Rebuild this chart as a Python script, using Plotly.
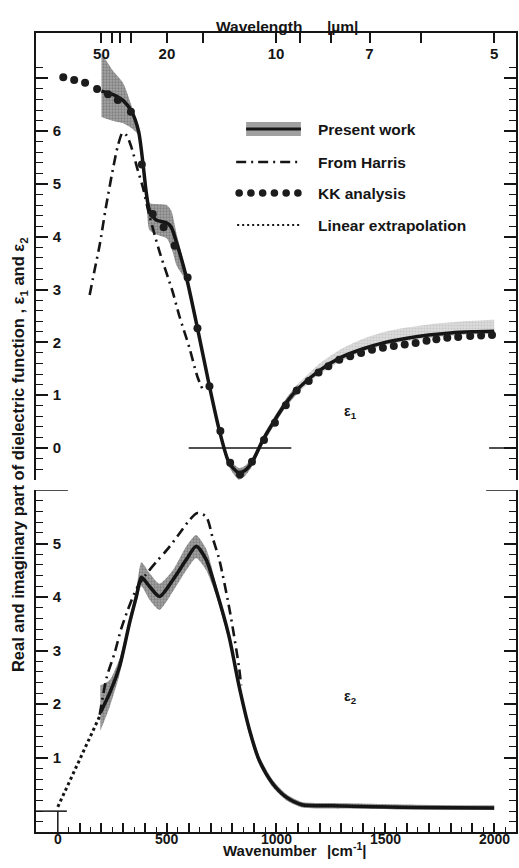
import plotly.graph_objects as go

# ---------------- data ----------------
# epsilon_1, present work: centre line and uncertainty band (wavenumber in cm^-1)
wn_e1 = [200, 250, 300, 340, 370, 390, 405, 420, 450, 500, 520, 545, 590, 640, 695, 740,
         785, 830, 860, 890, 940, 990, 1045, 1100, 1200, 1300, 1400, 1500, 1600, 1700,
         1800, 1900, 2000]
eps1 = [6.76, 6.70, 6.58, 6.36, 6.00, 5.40, 4.85, 4.50, 4.32, 4.26, 4.18, 3.88, 3.22, 2.27,
        1.17, 0.34, -0.28, -0.47, -0.42, -0.27, 0.15, 0.50, 0.85, 1.12, 1.47, 1.72, 1.88,
        2.00, 2.08, 2.14, 2.18, 2.20, 2.21]
eps1_hi = [7.48, 7.16, 6.91, 6.46, 6.08, 5.47, 4.95, 4.64, 4.62, 4.60, 4.50, 4.05, 3.30,
           2.35, 1.25, 0.42, -0.20, -0.38, -0.33, -0.19, 0.23, 0.58, 0.93, 1.21, 1.60,
           1.88, 2.07, 2.20, 2.28, 2.34, 2.38, 2.41, 2.43]
eps1_lo = [6.27, 6.20, 6.15, 6.05, 5.92, 5.33, 4.75, 4.13, 4.05, 3.97, 3.80, 3.45, 3.14,
           2.19, 1.09, 0.26, -0.36, -0.60, -0.52, -0.35, 0.07, 0.42, 0.77, 1.04, 1.40,
           1.65, 1.82, 1.94, 2.02, 2.08, 2.12, 2.15, 2.16]

# epsilon_1, Kramers-Kronig analysis
wn_kk = [25, 75, 125, 180, 230, 275, 335, 385, 435, 485, 535, 595, 640, 695, 745, 790,
         835, 890, 945, 995, 1045, 1095, 1150, 1195, 1240, 1290, 1340, 1390, 1440, 1490,
         1540, 1590, 1640, 1690, 1735, 1785, 1835, 1890, 1940, 1990]
eps1_kk = [7.02, 6.97, 6.92, 6.80, 6.70, 6.59, 6.37, 5.37, 4.43, 4.18, 3.83, 3.23, 2.27,
           1.17, 0.32, -0.28, -0.50, -0.26, 0.15, 0.48, 0.81, 1.09, 1.27, 1.43, 1.55,
           1.67, 1.74, 1.80, 1.86, 1.90, 1.93, 1.96, 1.99, 2.03, 2.06, 2.09, 2.10, 2.12,
           2.13, 2.14]

# epsilon_1 from Harris
wn_h1 = [146, 170, 192, 220, 252, 275, 297, 315, 337, 366, 389, 420, 466, 527, 557, 603,
         640, 670]
eps1_h = [2.90, 3.40, 3.85, 4.55, 5.27, 5.72, 5.97, 5.92, 5.70, 5.27, 4.95, 4.40, 3.72,
          2.95, 2.50, 1.90, 1.35, 1.05]

# epsilon_2, present work
wn_e2 = [195, 238, 283, 329, 360, 383, 420, 466, 527, 589, 634, 680, 725, 785, 831, 877,
         922, 982, 1044, 1119, 1256, 1638, 2000]
eps2 = [1.84, 2.21, 2.70, 3.52, 4.01, 4.37, 4.20, 4.01, 4.32, 4.70, 4.95, 4.70, 4.14,
        3.26, 2.33, 1.54, 0.96, 0.53, 0.27, 0.12, 0.10, 0.07, 0.06]
eps2_hi = [2.35, 2.45, 2.85, 3.62, 4.15, 4.65, 4.45, 4.25, 4.50, 4.95, 5.16, 4.90, 4.25,
           3.35, 2.42, 1.62, 1.04, 0.60, 0.33, 0.17, 0.15, 0.12, 0.11]
eps2_lo = [1.50, 1.95, 2.55, 3.42, 3.90, 4.20, 3.95, 3.76, 4.10, 4.50, 4.73, 4.50, 4.03,
           3.17, 2.24, 1.44, 0.88, 0.46, 0.21, 0.07, 0.05, 0.03, 0.02]

# epsilon_2 from Harris
wn_h2 = [192, 224, 260, 290, 320, 360, 400, 450, 500, 560, 600, 640, 680, 710, 740, 790,
         830, 840]
eps2_h = [1.80, 2.50, 2.95, 3.40, 3.75, 4.15, 4.40, 4.65, 4.88, 5.20, 5.42, 5.57, 5.50,
          5.10, 4.70, 3.70, 2.70, 2.35]

# epsilon_2 linear extrapolation to zero wavenumber
wn_lin = [0, 195]
eps2_lin = [0.08, 1.80]

# axis ticks
wl_ticks = [50, 40, 35, 30, 20, 15, 10, 9, 8, 7, 6, 5]      # wavelength, micrometres
wl_labelled = [50, 20, 10, 7, 5]
wn_major = list(range(0, 2001, 100))
wn_labelled = [0, 500, 1000, 1500, 2000]
e1_ticks = [0, 1, 2, 3, 4, 5, 6, 7]
e1_labels = ["0", "1", "2", "3", "4", "5", "6", ""]
e2_ticks = [1, 2, 3, 4, 5]
e2_labels = ["1", "2", "3", "4", "5"]

# ---------------- styling ----------------
W, H = 519, 868
ML, MR, MT, MB = 36, 1, 33, 36
FONT = "Liberation Sans, Arial, sans-serif"
INK = "#151515"
BAND = dict(shape=".", bgcolor="#a4a4a4", fgcolor="#5a5a5a", size=3, solidity=0.45)
BAND_LIGHT = dict(shape=".", bgcolor="#dcdcdc", fgcolor="#b4b4b4", size=3, solidity=0.4)
DASHDOT = "10px,5px,2px,5px"
DOTTED = "3px,3px"


def pxx(x):
    return (x - ML) / (W - ML - MR)


def pxy(y):
    return (H - MB - y) / (H - MT - MB)


fig = go.Figure()


def band(xs, lo, hi, xa, ya, pattern):
    fig.add_trace(go.Scatter(x=xs, y=lo, mode="lines", line=dict(width=0, shape="spline",
                             smoothing=0.6), xaxis=xa, yaxis=ya, hoverinfo="skip",
                             showlegend=False))
    fig.add_trace(go.Scatter(x=xs, y=hi, mode="lines", line=dict(width=0, shape="spline",
                             smoothing=0.6), fill="tonexty", fillpattern=pattern,
                             xaxis=xa, yaxis=ya, hoverinfo="skip", showlegend=False))


# ----- upper panel: epsilon_1 -----
split = wn_e1.index(1100)
band(wn_e1[:split + 1], eps1_lo[:split + 1], eps1_hi[:split + 1], "x", "y", BAND)
band(wn_e1[split:], eps1_lo[split:], eps1_hi[split:], "x", "y", BAND_LIGHT)
fig.add_trace(go.Scatter(x=wn_h1, y=eps1_h, mode="lines", xaxis="x", yaxis="y",
                         line=dict(color=INK, width=2.6, dash=DASHDOT, shape="spline",
                                   smoothing=0.8), showlegend=False))
fig.add_trace(go.Scatter(x=wn_e1, y=eps1, mode="lines", xaxis="x", yaxis="y",
                         line=dict(color=INK, width=3.5, shape="spline", smoothing=0.7),
                         showlegend=False))
fig.add_trace(go.Scatter(x=wn_kk, y=eps1_kk, mode="markers", xaxis="x", yaxis="y",
                         marker=dict(color="#1c1c1c", size=8), showlegend=False))

# ----- lower panel: epsilon_2 -----
band(wn_e2, eps2_lo, eps2_hi, "x2", "y2", BAND)
fig.add_trace(go.Scatter(x=wn_lin, y=eps2_lin, mode="lines", xaxis="x2", yaxis="y2",
                         line=dict(color=INK, width=3, dash=DOTTED), showlegend=False))
fig.add_trace(go.Scatter(x=wn_h2, y=eps2_h, mode="lines", xaxis="x2", yaxis="y2",
                         line=dict(color=INK, width=2.6, dash=DASHDOT, shape="spline",
                                   smoothing=0.8), showlegend=False))
fig.add_trace(go.Scatter(x=wn_e2, y=eps2, mode="lines", xaxis="x2", yaxis="y2",
                         line=dict(color=INK, width=3.5, shape="spline", smoothing=0.7),
                         showlegend=False))

# ----- axes -----
top_dom = [pxy(480), 1.0]
bot_dom = [0.0, pxy(490)]
axfont = dict(family=FONT, size=15, color=INK, weight=700)
common_y = dict(showline=True, linecolor=INK, linewidth=1.5, mirror="ticks",
                ticks="inside", ticklen=12, tickwidth=1.5, tickcolor=INK,
                tickmode="array", ticklabelposition="inside", ticklabelstandoff=5,
                tickfont=axfont, showgrid=False, zeroline=False,
                minor=dict(ticks="inside", ticklen=7, tickwidth=1.2, tickcolor=INK,
                           tickmode="linear", tick0=0, dtick=0.2, showgrid=False))

fig.update_layout(
    width=W, height=H,
    margin=dict(l=ML, r=MR, t=MT, b=MB),
    paper_bgcolor="white", plot_bgcolor="white",
    showlegend=False,
    xaxis=dict(domain=[0, 1], range=[-100, 2100], anchor="y", side="top",
               showline=True, linecolor=INK, linewidth=1.5, mirror=False,
               ticks="inside", ticklen=10, tickwidth=1.5, tickcolor=INK,
               tickmode="array", tickvals=[1e4 / w for w in wl_ticks],
               ticktext=[str(w) if w in wl_labelled else "" for w in wl_ticks],
               ticklabelposition="inside", ticklabelstandoff=6, tickfont=axfont,
               showgrid=False, zeroline=False),
    yaxis=dict(domain=top_dom, range=[-0.606, 7.86], anchor="x",
               tickvals=e1_ticks, ticktext=e1_labels, **common_y),
    # bottom wavenumber axis: ticks here, numbers set just under the line below
    xaxis2=dict(domain=[0, 1], range=[-100, 2100], anchor="y2", side="bottom",
                showline=True, linecolor=INK, linewidth=1.5, mirror=False,
                ticks="inside", ticklen=9, tickwidth=1.5, tickcolor=INK,
                tickmode="array", tickvals=wn_major, showticklabels=False,
                showgrid=False, zeroline=False,
                minor=dict(ticks="inside", ticklen=5, tickwidth=1.2, tickcolor=INK,
                           tickmode="linear", tick0=0, dtick=50, showgrid=False)),
    yaxis2=dict(domain=bot_dom, range=[-0.39, 6.0], anchor="x2",
                tickvals=e2_ticks, ticktext=e2_labels, **common_y),
)

# ----- reference lines and long ticks -----
shapes = [
    # epsilon_1 = 0 guide
    dict(type="line", xref="x", yref="y", x0=600, x1=1070, y0=0, y1=0,
         line=dict(color=INK, width=1.3)),
    dict(type="line", xref="paper", yref="y", x0=pxx(491), x1=1, y0=0, y1=0,
         line=dict(color=INK, width=1.5)),
    # epsilon_2 = 0 and the upper edge of the lower panel
    dict(type="line", xref="paper", yref="y2", x0=0, x1=pxx(67), y0=0, y1=0,
         line=dict(color=INK, width=1.5)),
    dict(type="line", xref="paper", yref="y2", x0=0, x1=pxx(68), y0=6, y1=6,
         line=dict(color=INK, width=1.5)),
    dict(type="line", xref="paper", yref="y2", x0=pxx(488), x1=1, y0=6, y1=6,
         line=dict(color=INK, width=1.5)),
    dict(type="line", xref="x2", yref="y2", x0=0, x1=0, y0=-0.39, y1=0,
         line=dict(color=INK, width=1.5)),
]

# ----- legend -----
LX0, LX1 = 240, 302
rows = [129, 162, 193, 225]
shapes.append(dict(type="rect", xref="paper", yref="paper",
                   x0=pxx(247), x1=pxx(LX1), y0=pxy(rows[0] + 7), y1=pxy(rows[0] - 7),
                   fillcolor="#a0a0a0", line=dict(width=0)))
shapes.append(dict(type="line", xref="paper", yref="paper", x0=pxx(247), x1=pxx(LX1),
                   y0=pxy(rows[0]), y1=pxy(rows[0]), line=dict(color=INK, width=3)))
shapes.append(dict(type="line", xref="paper", yref="paper", x0=pxx(237), x1=pxx(LX1),
                   y0=pxy(rows[1]), y1=pxy(rows[1]),
                   line=dict(color=INK, width=2.6, dash=DASHDOT)))
for k in range(6):
    cx = pxx(LX0 + k * 11.8)
    shapes.append(dict(type="circle", xref="paper", yref="paper",
                       xsizemode="pixel", ysizemode="pixel",
                       xanchor=cx, yanchor=pxy(rows[2]),
                       x0=-3.8, x1=3.8, y0=-3.8, y1=3.8,
                       fillcolor="#1c1c1c", line=dict(width=0)))
shapes.append(dict(type="line", xref="paper", yref="paper", x0=pxx(238), x1=pxx(LX1),
                   y0=pxy(rows[3]), y1=pxy(rows[3]),
                   line=dict(color=INK, width=2.2, dash="2px,3px")))
fig.update_layout(shapes=shapes)

txt = dict(family=FONT, size=15.5, color=INK, weight=700)
ann = []
for r, label in zip(rows, ["Present work", "From Harris", "KK analysis",
                           "Linear extrapolation"]):
    ann.append(dict(xref="paper", yref="paper", x=pxx(317), y=pxy(r), text=label,
                    showarrow=False, xanchor="left", yanchor="middle", font=txt))

# wavenumber numbers under the bottom axis
for v in wn_labelled:
    ann.append(dict(xref="x2", yref="paper", x=v, y=pxy(838.5), text=str(v),
                    showarrow=False, xanchor="center", yanchor="middle", borderpad=0,
                    font=dict(family=FONT, size=14, color=INK, weight=700)))

ann += [
    dict(xref="paper", yref="paper", x=pxx(260), y=pxy(16), text="Wavelength",
         showarrow=False, font=txt),
    dict(xref="paper", yref="paper", x=pxx(344), y=pxy(16), text="|µm|",
         showarrow=False, font=txt),
    dict(xref="paper", yref="paper", x=pxx(271), y=pxy(860.5), text="Wavenumber",
         showarrow=False, borderpad=0, font=dict(family=FONT, size=15, color=INK,
                                                 weight=700)),
    dict(xref="paper", yref="paper", x=pxx(348), y=pxy(859.5), text="|cm<sup>-1</sup>|",
         showarrow=False, borderpad=0, font=dict(family=FONT, size=15, color=INK,
                                                 weight=700)),
    dict(xref="paper", yref="paper", x=pxx(19), y=pxy(455), textangle=-90,
         xanchor="center", yanchor="middle",
         text="Real and imaginary part of dielectric function , ε<sub>1</sub> and ε<sub>2</sub>",
         showarrow=False, font=dict(family=FONT, size=16.5, color=INK, weight=700)),
    dict(xref="x", yref="y", x=1342, y=0.68, text="ε<sub>1</sub>", showarrow=False,
         font=dict(family=FONT, size=14, color=INK, weight=700)),
    dict(xref="x2", yref="y2", x=1342, y=2.14, text="ε<sub>2</sub>", showarrow=False,
         font=dict(family=FONT, size=14, color=INK, weight=700)),
]
fig.update_layout(annotations=ann)

fig.write_html("out.html")
